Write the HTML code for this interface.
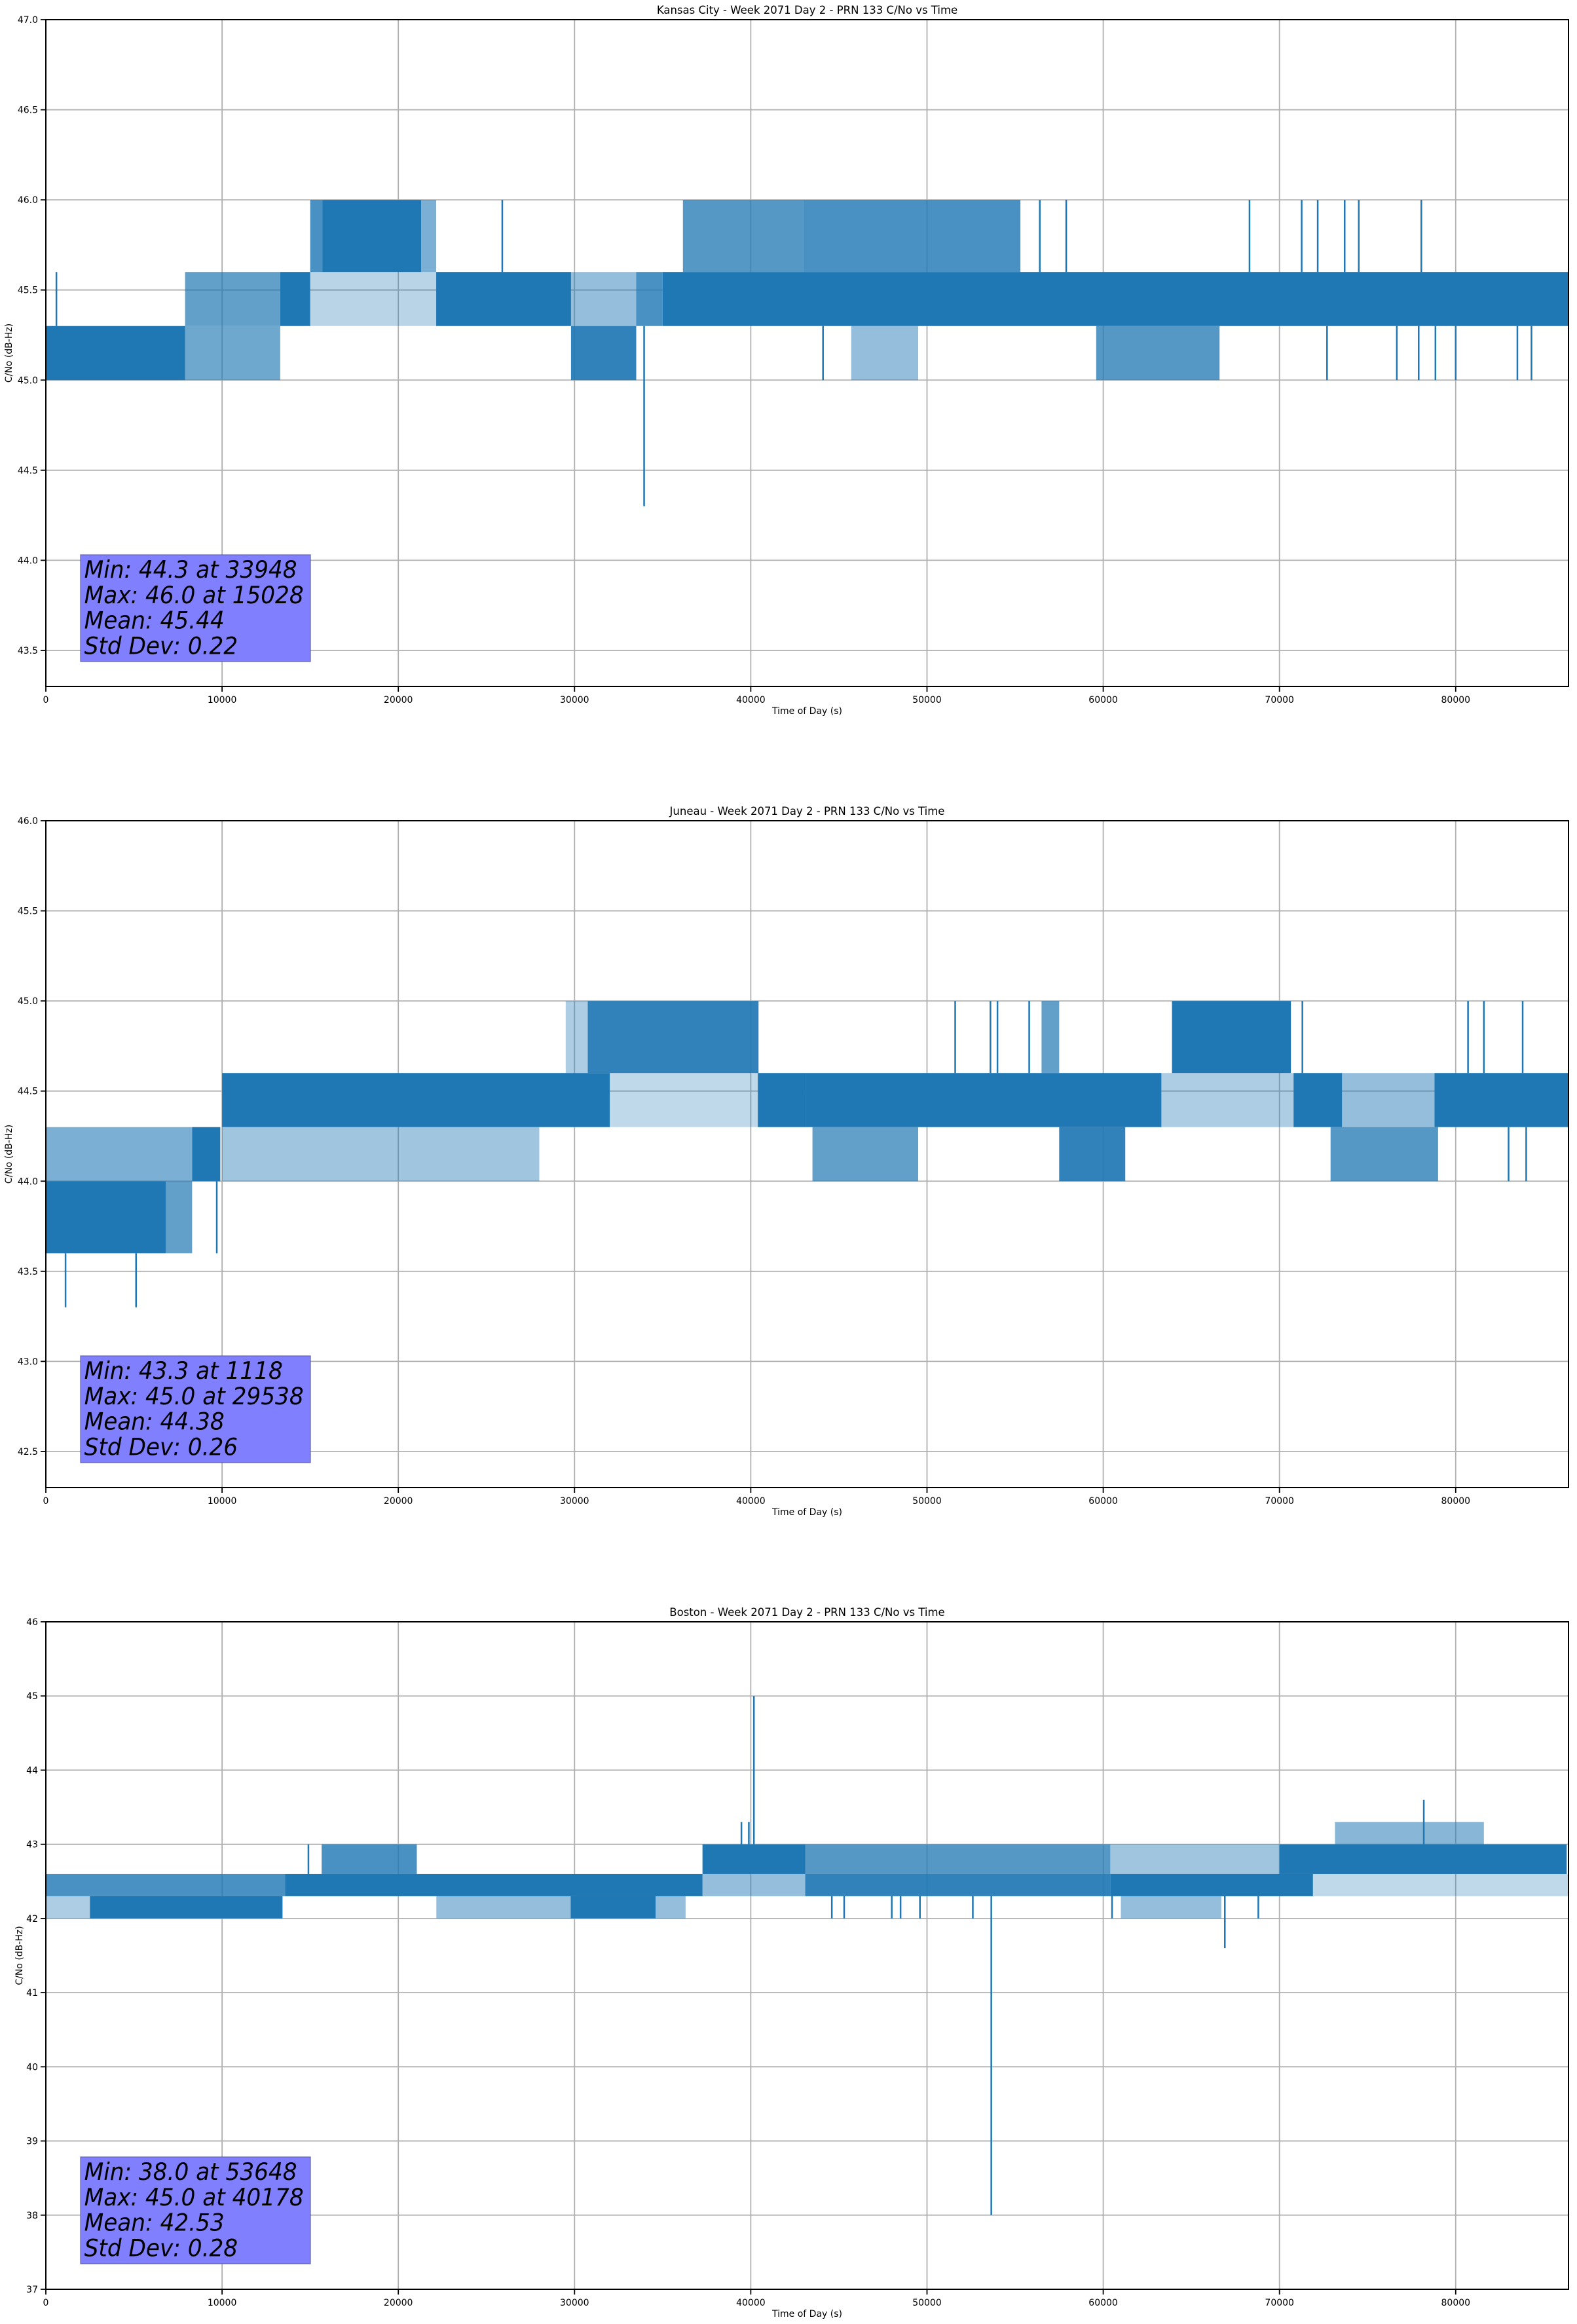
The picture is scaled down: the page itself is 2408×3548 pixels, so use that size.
<!DOCTYPE html>
<html>
<head>
<meta charset="utf-8">
<style>
  html,body{margin:0;padding:0;background:#fff;}
  svg{display:block;}
  text{font-family:"DejaVu Sans","Liberation Sans",sans-serif;fill:#000;}
</style>
</head>
<body>
<svg id="fig" width="2408" height="3548" viewBox="0 0 2408 3548" xmlns="http://www.w3.org/2000/svg"></svg>
<script>
// ---------- Data ----------
const xTickValues = [0,10000,20000,30000,40000,50000,60000,70000,80000];
const xTickLabels = ["0","10000","20000","30000","40000","50000","60000","70000","80000"];

const chartTitles = [
  "Kansas City - Week 2071 Day 2 - PRN 133 C/No vs Time",
  "Juneau - Week 2071 Day 2 - PRN 133 C/No vs Time",
  "Boston - Week 2071 Day 2 - PRN 133 C/No vs Time"
];
const yLimits = [[43.3,47.0],[42.3,46.0],[37.0,46.0]];
const kcYTicks = [43.5,44.0,44.5,45.0,45.5,46.0,46.5,47.0];
const kcYLabels = ["43.5","44.0","44.5","45.0","45.5","46.0","46.5","47.0"];
const junYTicks = [42.5,43.0,43.5,44.0,44.5,45.0,45.5,46.0];
const junYLabels = ["42.5","43.0","43.5","44.0","44.5","45.0","45.5","46.0"];
const bosYTicks = [37,38,39,40,41,42,43,44,45,46];
const bosYLabels = ["37","38","39","40","41","42","43","44","45","46"];

const kcStats = ["Min: 44.3 at 33948","Max: 46.0 at 15028","Mean: 45.44","Std Dev: 0.22"];
const junStats = ["Min: 43.3 at 1118","Max: 45.0 at 29538","Mean: 44.38","Std Dev: 0.26"];
const bosStats = ["Min: 38.0 at 53648","Max: 45.0 at 40178","Mean: 42.53","Std Dev: 0.28"];

// blocks: [tStart, tEnd, low, high, density]
const kcBlocks = [
  [0,7900,45.0,45.3,1],[7900,13300,45.0,45.3,0.45],[7900,13300,45.3,45.6,0.5],
  [13300,15000,45.3,45.6,1],[15000,15700,45.6,46.0,0.6],[15700,21300,45.6,46.0,1],
  [21300,22150,45.6,46.0,0.4],[15000,22150,45.3,45.6,0.15],[22150,29800,45.3,45.6,0.85],
  [29800,33500,45.0,45.3,0.7],[29800,33500,45.3,45.6,0.3],[33500,35000,45.3,45.6,0.6],
  [35000,86400,45.3,45.6,0.95],[36150,43000,45.6,46.0,0.55],[43000,55300,45.6,46.0,0.6],
  [45700,49500,45.0,45.3,0.3],[59600,66600,45.0,45.3,0.55]
];
// spikes: [t, low, high]
const kcSpikes = [
  [600,45.3,45.6],[33948,44.3,45.3],[25900,45.6,46.0],[56400,45.6,46.0],[57900,45.6,46.0],
  [68300,45.6,46.0],[71260,45.6,46.0],[72170,45.6,46.0],[73700,45.6,46.0],[74500,45.6,46.0],
  [78050,45.6,46.0],[44100,45.0,45.3],[72700,45.0,45.3],[76660,45.0,45.3],[77900,45.0,45.3],
  [78850,45.0,45.3],[80000,45.0,45.3],[83500,45.0,45.3],[84300,45.0,45.3]
];
const junBlocks = [
  [0,6800,43.6,44.0,1],[6800,8300,43.6,44.0,0.5],[0,8300,44.0,44.3,0.4],[8300,9900,44.0,44.3,1],
  [10000,32000,44.3,44.6,0.85],[10000,28000,44.0,44.3,0.25],[29500,30750,44.6,45.0,0.2],
  [30750,40440,44.6,45.0,0.7],[32000,40400,44.3,44.6,0.12],[40400,43090,44.3,44.6,1],
  [43090,63300,44.3,44.6,0.85],[63300,70800,44.3,44.6,0.2],[70800,73550,44.3,44.6,0.95],
  [73550,78800,44.3,44.6,0.3],[78800,86400,44.3,44.6,0.95],[43500,49500,44.0,44.3,0.5],
  [57500,61250,44.0,44.3,0.7],[72900,79000,44.0,44.3,0.55],[63900,70650,44.6,45.0,0.9],
  [56500,57500,44.6,45.0,0.5]
];
const junSpikes = [
  [1118,43.3,43.6],[5120,43.3,43.6],[9700,43.6,44.0],[51600,44.6,45.0],[53600,44.6,45.0],
  [54000,44.6,45.0],[55800,44.6,45.0],[71300,44.6,45.0],[80700,44.6,45.0],[81600,44.6,45.0],
  [83800,44.6,45.0],[83000,44.0,44.3],[84000,44.0,44.3]
];
const bosBlocks = [
  [0,13570,42.3,42.6,0.6],[13570,37260,42.3,42.6,0.8],[0,2500,42.0,42.3,0.2],
  [2500,13430,42.0,42.3,0.85],[22160,29780,42.0,42.3,0.3],[29780,34600,42.0,42.3,0.8],
  [34600,36300,42.0,42.3,0.3],[15650,21050,42.6,43.0,0.6],[37260,43090,42.6,43.0,0.8],
  [43090,60400,42.6,43.0,0.55],[60400,70000,42.6,43.0,0.25],[70000,86300,42.6,43.0,0.85],
  [43090,60400,42.3,42.6,0.7],[60400,71900,42.3,42.6,0.9],[71900,86400,42.3,42.6,0.12],
  [37260,43090,42.3,42.6,0.3],[73150,81600,43.0,43.3,0.35],[61000,66700,42.0,42.3,0.3]
];
const bosSpikes = [
  [40178,43.0,45.0],[39470,43.0,43.3],[39890,43.0,43.3],[53648,38.0,42.3],[66900,41.6,42.3],
  [78190,43.0,43.6],[14900,42.6,43.0],[44600,42.0,42.3],[45300,42.0,42.3],[48000,42.0,42.3],
  [48500,42.0,42.3],[49600,42.0,42.3],[52600,42.0,42.3],[60500,42.0,42.3],[68800,42.0,42.3]
];

// ---------- Layout ----------
const LEFT = 70, RIGHT = 2395;
const axTops = [30,1253,2476];
const axBottoms = [1048,2271,3495];
const ylabX = [18,18,34];
const BLUE = "#1f77b4";
const NS = "http://www.w3.org/2000/svg";
const svg = document.getElementById("fig");

function mk(tag, attrs, parent){
  const e = document.createElementNS(NS, tag);
  for (const k in attrs) e.setAttribute(k, attrs[k]);
  (parent||svg).appendChild(e);
  return e;
}

function drawChart(i, yTicks, yLabels, blocks, spikes, stats, key){
  const top = axTops[i], bot = axBottoms[i];
  const [y0,y1] = yLimits[i];
  const xs = t => LEFT + (t/86400)*(RIGHT-LEFT);
  const ys = v => bot - (v-y0)/(y1-y0)*(bot-top);

  const g = mk("g",{});
  
  

  const grid = mk("g",{},g);
  
  
  xTickValues.forEach(t=>{
    const l = mk("line",{x1:xs(t),x2:xs(t),y1:top,y2:bot,stroke:"#b0b0b0","stroke-width":1.8},grid);
    
    
  });
  yTicks.forEach(v=>{
    const l = mk("line",{x1:LEFT,x2:RIGHT,y1:ys(v),y2:ys(v),stroke:"#b0b0b0","stroke-width":1.8},grid);
    
    
  });

  const clipId = "clip"+i;
  const cp = mk("clipPath",{id:clipId},g);
  mk("rect",{x:LEFT,y:top,width:RIGHT-LEFT,height:bot-top},cp);
  const series = mk("g",{"clip-path":"url(#"+clipId+")"},g);
  
  
  blocks.forEach(b=>{
    const op = Math.min(1, 0.15 + 1.1*b[4]);
    const r = mk("rect",{x:xs(b[0]),y:ys(b[3]),width:Math.max(1,xs(b[1])-xs(b[0])),height:ys(b[2])-ys(b[3]),fill:BLUE,"fill-opacity":op},series);
    
    
  });
  spikes.forEach(s=>{
    const l = mk("line",{x1:xs(s[0]),x2:xs(s[0]),y1:ys(s[1]),y2:ys(s[2]),stroke:BLUE,"stroke-width":2.5},series);
    
    
  });

  const fr = mk("rect",{x:LEFT,y:top,width:RIGHT-LEFT,height:bot-top,fill:"none",stroke:"#000","stroke-width":2},g);
  
  

  xTickValues.forEach((t,j)=>{
    mk("line",{x1:xs(t),x2:xs(t),y1:bot,y2:bot+8,stroke:"#000","stroke-width":1.8},g);
    const tx = mk("text",{x:xs(t),y:bot+25,"font-size":14,"text-anchor":"middle"},g);
    tx.textContent = xTickLabels[j];
    
    
  });
  yTicks.forEach((v,j)=>{
    mk("line",{x1:LEFT-8,x2:LEFT,y1:ys(v),y2:ys(v),stroke:"#000","stroke-width":1.8},g);
    const tx = mk("text",{x:LEFT-12,y:ys(v)+5,"font-size":14,"text-anchor":"end"},g);
    tx.textContent = yLabels[j];
    
    
  });

  const ti = mk("text",{x:(LEFT+RIGHT)/2,y:top-9,"font-size":16.5,"text-anchor":"middle"},g);
  ti.textContent = chartTitles[i];
  
  

  const xl = mk("text",{x:(LEFT+RIGHT)/2,y:bot+42,"font-size":14,"text-anchor":"middle"},g);
  xl.textContent = "Time of Day (s)";
  
  
  const yc = (top+bot)/2;
  const yl = mk("text",{x:ylabX[i],y:yc,"font-size":14,"text-anchor":"middle",transform:"rotate(-90 "+ylabX[i]+" "+yc+")"},g);
  yl.textContent = "C/No (dB-Hz)";
  
  

  const bt = top + 817;
  const sb = mk("g",{},g);
  
  
  mk("rect",{x:123,y:bt,width:351,height:163,fill:"#8080ff",stroke:"#55559a","stroke-width":1.5,"stroke-opacity":0.7},sb);
  stats.forEach((s,j)=>{
    const by = bt + 35 + j*38.8;
    const tx = mk("text",{x:0,y:0,"font-size":36.5,"font-style":"oblique",transform:"translate(128.6 "+by+") scale(0.94 1)"},sb);
    tx.textContent = s;
    
    
  });
}

drawChart(0, kcYTicks, kcYLabels, kcBlocks, kcSpikes, kcStats, "kansas-city");
drawChart(1, junYTicks, junYLabels, junBlocks, junSpikes, junStats, "juneau");
drawChart(2, bosYTicks, bosYLabels, bosBlocks, bosSpikes, bosStats, "boston");
</script>
</body>
</html>
